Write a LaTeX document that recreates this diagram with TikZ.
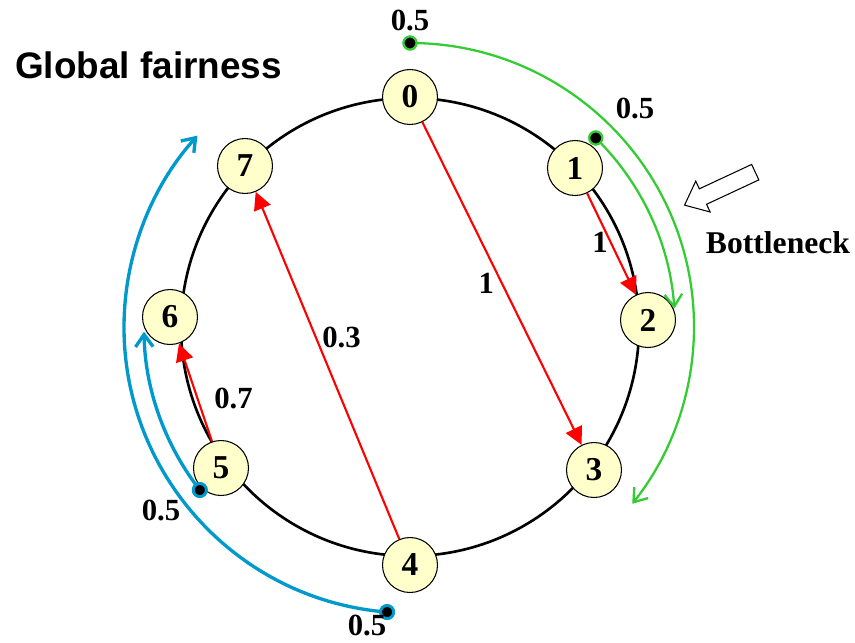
\documentclass[tikz,border=0pt]{standalone}
\usepackage{fontspec}
\setmainfont{Liberation Serif}
\newfontfamily\headfont{Liberation Sans}
\usetikzlibrary{arrows.meta,positioning,shapes.arrows}
\definecolor{stationfill}{RGB}{255,255,204}
\definecolor{flowgreen}{RGB}{51,204,51}
\definecolor{flowblue}{RGB}{0,153,204}

\begin{document}
\begin{tikzpicture}[
  station/.style={circle, draw, line width=0.6pt, fill=stationfill, minimum size=1.1cm,
                  inner sep=0pt, font=\fontsize{19}{20}\selectfont\bfseries},
  ring/.style={line width=1.5pt},
  flow/.style={draw=red, line width=1.2pt, -{Triangle[length=10pt,width=10pt]}},
  lbl/.style={font=\fontsize{17.5}{20}\selectfont\bfseries, inner sep=1pt},
  gflow/.style={draw=flowgreen, line width=1.3pt, -{Straight Barb[length=7pt,width=10pt]}},
  bflow/.style={draw=flowblue, line width=1.9pt, -{Straight Barb[length=7pt,width=10pt]}},
  gdot/.style={circle, fill=black, draw=flowgreen, line width=1.2pt, minimum size=0.26cm, inner sep=0pt},
  bdot/.style={gdot, draw=flowblue, line width=1.6pt},
  hollow/.style={single arrow, draw, fill=white, line width=0.6pt, inner xsep=0pt, inner ysep=0.16cm,
                 minimum height=1.56cm, single arrow head extend=0.17cm, single arrow tip angle=80}
]
\useasboundingbox (-8.2,-6.3) rectangle (8.9,6.54);
\draw[ring] (0,0) circle[radius=4.58];
\node[station] (n0) at (0,4.6) {0};
\node[station] (n1) at (3.3,3.18) {1};
\node[station] (n2) at (4.76,0.14) {2};
\node[station] (n3) at (3.68,-2.86) {3};
\node[station] (n4) at (0,-4.76) {4};
\node[station] (n5) at (-3.78,-2.82) {5};
\node[station] (n6) at (-4.8,0.2) {6};
\node[station] (n7) at (-3.3,3.22) {7};
\draw[flow] (n0) -- node[lbl, pos=0.5, left=3pt] {1} (n3);
\draw[flow] (n1) -- node[lbl, pos=0.48, left=0pt] {1} (n2);
\draw[flow] (n4) -- node[lbl, pos=0.58, right=2pt] {0.3} (n7);
\draw[flow] (n5) -- node[lbl, pos=0.44, right=8pt] {0.7} (n6);
\node[gdot] (ga) at (90:5.68) {};
\node[gdot] (gb) at (45.5:5.3) {};
\node[bdot] (ba) at (265.4:5.72) {};
\node[bdot] (bb) at (217.8:5.32) {};
\draw[gflow] (ga.center) arc[start angle=90, end angle=-38.5, radius=5.68];
\draw[gflow] (gb.center) arc[start angle=45.5, end angle=4, radius=5.3];
\draw[bflow] (ba.center) arc[start angle=265.4, end angle=138, radius=5.72];
\draw[bflow] (bb.center) arc[start angle=217.8, end angle=181, radius=5.32];
\node[gdot] at (ga) {};
\node[gdot] at (gb) {};
\node[bdot] at (ba) {};
\node[bdot] at (bb) {};
\node[lbl] (ga-w) at (0,6.14) {0.5};
\node[lbl] (gb-w) at (4.5,4.38) {0.5};
\node[lbl] (bb-w) at (-4.98,-3.66) {0.5};
\node[lbl] (ba-w) at (-0.86,-5.97) {0.5};
\node[hollow, rotate=205] (bneck) at (6.29,2.81) {};
\node[lbl, font=\fontsize{18}{20}\selectfont\bfseries] (bneck-w) at (7.36,1.69) {Bottleneck};
\node[font=\headfont\fontsize{21}{24}\selectfont\bfseries] (title) at (-5.23,5.24) {Global fairness};
\end{tikzpicture}
\end{document}
